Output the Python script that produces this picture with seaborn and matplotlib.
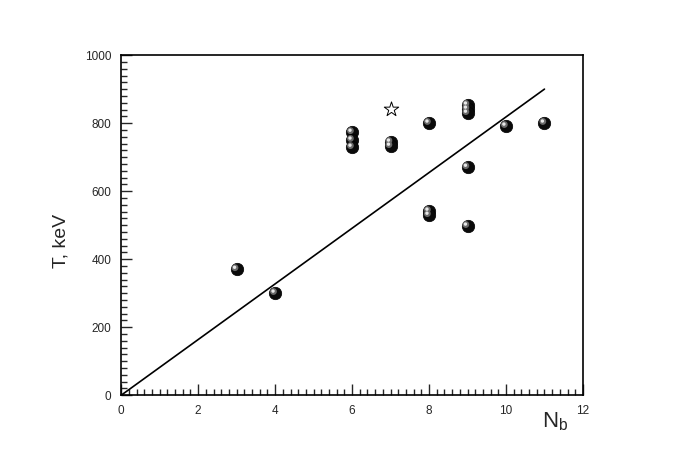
import seaborn as sns
import matplotlib.pyplot as plt
import matplotlib.transforms as mtrans
import pandas as pd
import numpy as np
from matplotlib.ticker import MultipleLocator

# data
nb = [3, 4, 6, 6, 6, 7, 7, 8, 8, 8, 9, 9, 9, 9, 9, 10, 11]
t_kev = [370, 300, 773, 750, 729, 744, 732, 800, 541, 529, 853, 841, 829, 670, 497, 791, 800]
star_nb = [7]
star_t = [841]
fit_nb = [0, 11]
fit_t = [0, 900]

df = pd.DataFrame({"Nb": nb, "T": t_kev})

sns.set_style("white")
plt.rcParams["font.family"] = ["Liberation Sans", "DejaVu Sans"]

fig = plt.figure(figsize=(6.81, 4.75), dpi=100)
ax = fig.add_axes([0.178, 0.168, 0.678, 0.716])

sns.lineplot(x=fit_nb, y=fit_t, ax=ax, color="black", lw=1.2, zorder=2)

# shaded balls: dark body + a highlight shifted up-left
sns.scatterplot(data=df, x="Nb", y="T", ax=ax, s=80, color="#0a0a0a",
                edgecolor="black", linewidth=0.5, zorder=3)
shift = mtrans.offset_copy(ax.transData, fig=fig, x=-1.2, y=1.2, units="points")
sns.scatterplot(data=df, x="Nb", y="T", ax=ax, s=24, color="#6a6a6a",
                edgecolor="none", zorder=4)
ax.collections[-1].set_offset_transform(shift)
shift2 = mtrans.offset_copy(ax.transData, fig=fig, x=-1.5, y=1.5, units="points")
sns.scatterplot(data=df, x="Nb", y="T", ax=ax, s=6, color="#e8e8e8",
                edgecolor="none", zorder=5)
ax.collections[-1].set_offset_transform(shift2)

sns.scatterplot(x=star_nb, y=star_t, ax=ax, marker="*", s=120,
                facecolor="white", edgecolor="black", linewidth=0.7, zorder=3)

ax.set_xlim(0, 12)
ax.set_ylim(0, 1000)
ax.xaxis.set_major_locator(MultipleLocator(2))
ax.xaxis.set_minor_locator(MultipleLocator(0.2))
ax.yaxis.set_major_locator(MultipleLocator(200))
ax.yaxis.set_minor_locator(MultipleLocator(20))
ax.tick_params(which="major", direction="in", length=8, width=1, labelsize=8.5,
               bottom=True, left=True, top=False, right=False, pad=7)
ax.tick_params(which="minor", direction="in", length=4, width=1,
               bottom=True, left=True, top=False, right=False)
for s in ax.spines.values():
    s.set_linewidth(1.2)
    s.set_color("black")

ax.set_xlabel("")
ax.set_ylabel("")
fig.text(0.0903, 0.493, "T, keV", rotation=90, fontsize=14,
         ha="center", va="center")
fig.text(0.796, 0.101, r"N$_\mathregular{b}$", fontsize=16,
         ha="left", va="baseline")

fig.savefig("out.png", dpi=100)
plt.close()
